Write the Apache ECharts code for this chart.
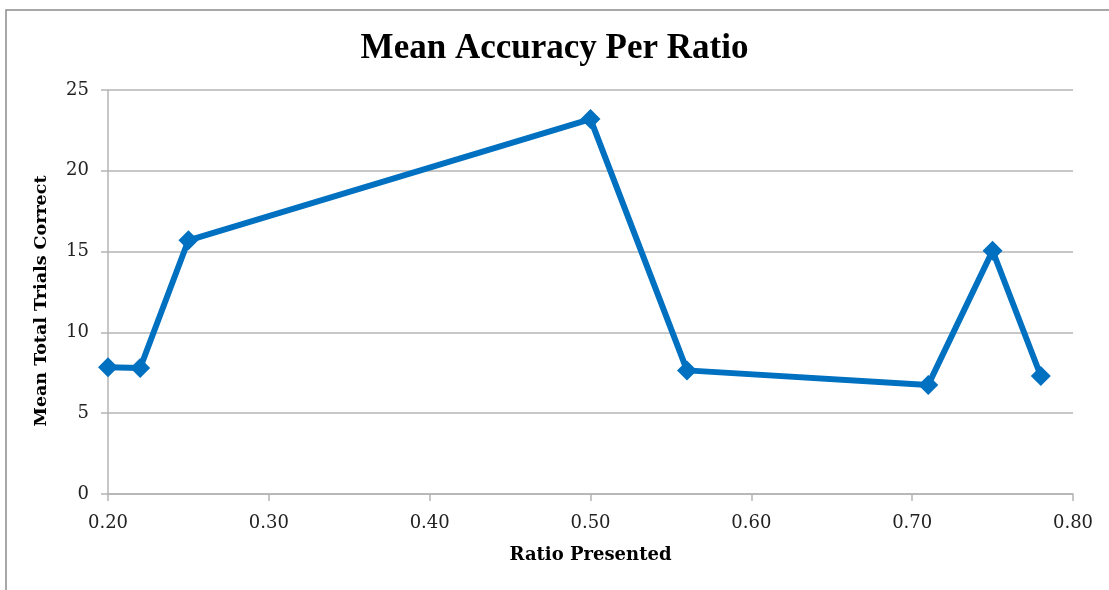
<!DOCTYPE html>
<html>
<head>
<meta charset="utf-8">
<script src="https://cdn.jsdelivr.net/npm/echarts@6/dist/echarts.min.js"></script>
<style>
html,body{margin:0;padding:0;background:#fff;}
#chart{width:1109px;height:590px;}
</style>
</head>
<body>
<div id="chart"></div>
<script>
const ratios = [0.20, 0.22, 0.25, 0.50, 0.56, 0.71, 0.75, 0.78];
const meanCorrect = [7.85, 7.8, 15.7, 23.2, 7.65, 6.75, 15.05, 7.3];
const xTicks = [0.2, 0.3, 0.4, 0.5, 0.6, 0.7, 0.8];
const yTicks = [0, 5, 10, 15, 20, 25];

const FONT = '"DejaVu Serif", "Liberation Serif", serif';
const chart = echarts.init(document.getElementById('chart'));
chart.setOption({
  animation: false,
  backgroundColor: '#fff',
  graphic: [{
    type: 'polyline',
    shape: { points: [[6, 600], [6, 10], [1115, 10]] },
    style: { stroke: '#8c8c8c', lineWidth: 1.5, fill: null },
    silent: true
  }],
  title: {
    text: 'Mean Accuracy Per Ratio',
    left: 'center',
    top: 26,
    textStyle: { fontFamily: '"Liberation Serif", serif', fontWeight: 'bold', fontSize: 35, color: '#000' }
  },
  grid: { left: 108, right: 36, top: 90, bottom: 96, containLabel: false },
  xAxis: {
    type: 'value',
    min: xTicks[0], max: xTicks[xTicks.length - 1], interval: 0.1,
    name: 'Ratio Presented',
    nameLocation: 'middle',
    nameGap: 52,
    nameTextStyle: { fontFamily: FONT, fontWeight: 'bold', fontSize: 18, color: '#000' },
    axisLine: { lineStyle: { color: '#b4b4b4', width: 1.5 } },
    axisTick: { show: true, length: 7, lineStyle: { color: '#b4b4b4', width: 1.5 } },
    axisLabel: { fontFamily: FONT, fontSize: 18, color: '#222', margin: 20, formatter: v => v.toFixed(2) },
    splitLine: { show: false }
  },
  yAxis: {
    type: 'value',
    min: yTicks[0], max: yTicks[yTicks.length - 1], interval: 5,
    name: 'Mean Total Trials Correct',
    nameLocation: 'middle',
    nameGap: 58,
    nameTextStyle: { fontFamily: FONT, fontWeight: 'bold', fontSize: 17.5, color: '#000', padding: [0, 18, 0, 0] },
    axisLine: { show: true, lineStyle: { color: '#b4b4b4', width: 1.5 } },
    axisTick: { show: true, length: 7, lineStyle: { color: '#b4b4b4', width: 1.5 } },
    axisLabel: { fontFamily: FONT, fontSize: 18, color: '#222', margin: 19 },
    splitLine: { show: true, lineStyle: { color: '#b4b4b4', width: 1.5 } }
  },
  series: [{
    type: 'line',
    data: ratios.map((r, i) => [r, meanCorrect[i]]),
    symbol: 'diamond',
    symbolSize: 20,
    showAllSymbol: true,
    lineStyle: { color: '#0070C0', width: 6 },
    itemStyle: { color: '#0070C0' },
    z: 5
  }]
});
</script>
</body>
</html>
